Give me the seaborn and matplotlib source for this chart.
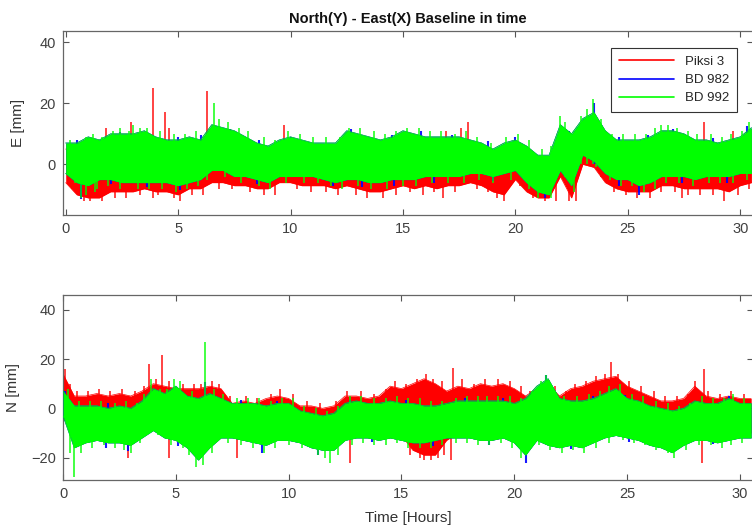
import numpy as np
import pandas as pd
import matplotlib
matplotlib.use("Agg")
import matplotlib.pyplot as plt
import seaborn as sns
from matplotlib.lines import Line2D

# ---------------- data ----------------
T = np.arange(0, 31, 0.5)  # hours, 0 .. 30.5

NAMES = ["Piksi 3", "BD 982", "BD 992"]
COLORS = ["#ff0000", "#0000ff", "#00ff00"]

# East component [mm]: dense-core upper / lower envelopes per receiver
RE_hi = [5, 5, 6, 6, 8, 8, 8, 8, 7, 7,
         6, 6, 6, 8, 8, 8, 7, 5, 4, 6,
         7, 6, 5, 5, 5, 8, 7, 7, 6, 6,
         8, 7, 7, 7, 7, 7, 6, 5, 3, 5,
         6, 4, 1, 1, 8, 6, 10, 11, 8, 6,
         5, 6, 6, 8, 8, 7, 6, 6, 5, 6,
         6, 8]
RE_lo = [-6, -10, -11, -11, -9, -9, -9, -8, -9, -9,
         -10, -8, -8, -6, -6, -7, -7, -8, -8, -6,
         -6, -7, -7, -7, -8, -7, -8, -9, -9, -8,
         -7, -8, -7, -8, -7, -7, -6, -7, -9, -10,
         -5, -9, -11, -11, -4, -11, 0, -1, -6, -8,
         -9, -9, -9, -7, -7, -8, -8, -8, -8, -9,
         -7, -6]
BE_hi = [7, 7, 9, 8, 10, 10, 10, 11, 9, 8,
         8, 9, 8, 13, 12, 11, 9, 7, 6, 8,
         9, 8, 7, 7, 7, 11, 10, 9, 8, 9,
         11, 10, 9, 9, 9, 9, 8, 7, 5, 7,
         8, 6, 3, 3, 13, 10, 15, 17, 11, 8,
         8, 8, 9, 11, 11, 10, 8, 8, 7, 8,
         9, 12]
BE_lo = [-3, -6, -7, -5, -5, -6, -6, -6, -6, -6,
         -7, -6, -5, -2, -2, -4, -4, -5, -6, -4,
         -4, -4, -4, -5, -6, -5, -5, -6, -6, -5,
         -5, -5, -4, -4, -4, -4, -3, -3, -4, -3,
         -2, -6, -9, -10, -2, -7, 3, 1, -3, -5,
         -5, -7, -6, -4, -4, -4, -5, -4, -4, -4,
         -3, -3]
GE_hi = [7, 7, 9, 8, 10, 10, 10, 11, 9, 8,
         8, 9, 8, 13, 12, 11, 9, 7, 6, 8,
         9, 8, 7, 7, 7, 11, 10, 9, 8, 9,
         11, 10, 9, 9, 9, 9, 8, 7, 5, 7,
         8, 6, 3, 3, 13, 10, 15, 17, 11, 8,
         8, 8, 9, 11, 11, 10, 8, 8, 7, 8,
         9, 12]
GE_lo = [-3, -6, -7, -5, -5, -6, -6, -6, -6, -6,
         -7, -6, -5, -2, -2, -4, -4, -5, -6, -4,
         -4, -4, -4, -5, -6, -5, -5, -6, -6, -5,
         -5, -5, -4, -4, -4, -4, -3, -3, -4, -3,
         -2, -6, -9, -10, -2, -7, 3, 1, -3, -5,
         -5, -7, -6, -4, -4, -4, -5, -4, -4, -4,
         -3, -3]

# North component [mm]
RN_hi = [14, 5, 5, 6, 5, 6, 5, 7, 10, 9,
         8, 8, 8, 9, 8, 2, 3, 2, 4, 5,
         4, 1, 1, 0, 1, 5, 5, 4, 5, 9,
         8, 10, 12, 10, 7, 9, 8, 10, 9, 10,
         8, 5, 8, 10, 5, 8, 9, 11, 12, 13,
         9, 7, 5, 3, 3, 4, 9, 5, 4, 5,
         4, 4]
RN_lo = [-2, -8, -10, -10, -11, -12, -14, -10, -8, -10,
         -12, -11, -13, -12, -10, -10, -11, -12, -13, -11,
         -11, -12, -14, -15, -15, -12, -11, -11, -11, -10,
         -11, -17, -19, -19, -13, -10, -10, -11, -11, -10,
         -11, -15, -10, -12, -13, -12, -12, -10, -9, -8,
         -10, -11, -13, -14, -15, -13, -11, -11, -11, -10,
         -10, -10]
BN_hi = [7, 1, 1, 1, 0, 1, 0, 3, 8, 6,
         9, 5, 4, 6, 4, 2, 2, 2, 1, 2,
         2, -1, -2, -3, -2, 2, 3, 2, 2, 3,
         2, 2, 1, 1, 2, 3, 3, 3, 3, 3,
         2, 4, 9, 12, 4, 3, 3, 4, 6, 8,
         4, 3, 1, 0, -1, 0, 3, 2, 2, 4,
         2, 2]
BN_lo = [-3, -16, -14, -13, -14, -14, -15, -12, -9, -12,
         -13, -16, -21, -16, -12, -12, -13, -14, -15, -13,
         -13, -14, -16, -17, -17, -13, -12, -12, -13, -12,
         -13, -14, -14, -13, -12, -12, -12, -13, -13, -12,
         -14, -19, -13, -15, -16, -15, -16, -14, -12, -11,
         -12, -13, -15, -16, -18, -15, -13, -13, -14, -13,
         -12, -12]
GN_hi = [7, 1, 1, 1, 0, 1, 0, 3, 8, 6,
         9, 5, 4, 6, 4, 2, 2, 2, 1, 2,
         2, -1, -2, -3, -2, 2, 3, 2, 2, 3,
         2, 2, 1, 1, 2, 3, 3, 3, 3, 3,
         2, 4, 9, 12, 4, 3, 3, 4, 6, 8,
         4, 3, 1, 0, -1, 0, 3, 2, 2, 4,
         2, 2]
GN_lo = [-3, -16, -14, -13, -14, -14, -15, -12, -9, -12,
         -13, -16, -21, -16, -12, -12, -13, -14, -15, -13,
         -13, -14, -16, -17, -17, -13, -12, -12, -13, -12,
         -13, -14, -14, -13, -12, -12, -12, -13, -13, -12,
         -14, -19, -13, -15, -16, -15, -16, -14, -12, -11,
         -12, -13, -15, -16, -18, -15, -13, -13, -14, -13,
         -12, -12]

# individual excursions beyond the dense core (time [h], value [mm])
RE_spk_t = [1.8, 2.9, 3.9, 4.4, 4.6, 6.3, 9.7, 16.9, 17.6, 17.9, 28.4, 29.7,
            3.9, 5.1, 16.8, 19.5, 27.4, 29.3,
            0.3, 0.8, 1.1, 1.6, 2.2, 2.7, 3.3, 4.1, 4.8, 5.6, 6.1, 6.8, 7.4, 8.2,
            8.8, 9.3, 10.3, 10.9, 11.6, 12.1, 12.9, 13.4, 14.1, 14.7, 15.3, 15.9,
            16.4, 17.3, 18.3, 18.8, 19.2, 20.2, 20.8, 21.3, 21.8, 22.4, 22.7, 23.8,
            24.4, 24.9, 25.4, 26.0, 26.5, 27.1, 27.7, 28.2, 28.8, 29.9, 30.4]
RE_spk_v = [12, 14, 25, 17, 12, 24, 13, 11, 12, 14, 14, 11,
            -11, -12, -11, -12, -11, -12,
            -8, -12, -12, -12, -11, -11, -10, -10, -11, -10, -10, -8, -8, -9,
            -10, -10, -8, -9, -9, -10, -10, -11, -11, -10, -9, -10,
            -9, -9, -8, -9, -11, -7, -11, -12, -12, -12, -12, -4,
            -9, -10, -11, -11, -9, -9, -10, -10, -10, -10, -8]
BE_spk_t = [0.5, 2.4, 5.0, 6.0, 7.3, 8.6, 10.0, 12.7, 14.5, 15.8, 17.2, 18.8,
            20.0, 22.4, 23.5, 24.6, 25.9, 27.0, 28.8, 30.3,
            0.7, 2.0, 3.6, 5.1, 8.5, 11.9, 13.2, 14.6, 16.4, 19.0, 21.3, 24.6,
            25.5, 27.4, 29.4]
BE_spk_v = [8, 10.5, 9, 9.5, 11.5, 8, 9, 11.5, 9.5, 11, 9.5, 7.5,
            9, 11, 20, 9, 9.5, 11.5, 8.5, 12.5,
            -11.5, -6.5, -7.5, -8.5, -6.5, -7, -7.5, -7, -6, -5.5, -11, -7,
            -10, -6, -6]
GE_spk_t = [3.0, 6.6, 22.0, 23.45, 26.5, 30.4, 0.7, 1.3,
            0.2, 0.9, 1.2, 1.6, 2.1, 2.4, 2.8, 3.3, 3.6, 4.2, 4.8, 5.3, 5.8, 6.8,
            7.2, 7.7, 8.1, 8.8, 9.3, 9.9, 10.4, 11.0, 11.6, 12.2, 12.6, 13.1, 13.7,
            14.2, 14.7, 15.2, 15.7, 16.2, 16.7, 17.3, 17.8, 18.3, 18.9, 19.6, 20.1,
            20.6, 21.2, 21.6, 22.2, 22.9, 23.2, 23.8, 24.3, 24.8, 25.3, 25.8, 26.2,
            26.8, 27.2, 27.7, 28.1, 28.7, 29.2, 29.6, 30.1,
            0.4, 0.9, 1.4, 1.9, 2.4, 3.2, 3.7, 4.3, 4.9, 5.4, 5.9, 6.3, 7.1, 7.8,
            8.6, 9.1, 9.8, 10.6, 11.2, 11.8, 12.3, 13.0, 13.6, 14.3, 15.0, 15.6,
            16.3, 17.0, 17.7, 18.4, 19.0, 19.8, 20.6, 21.0, 21.6, 22.2, 22.6, 23.6,
            24.2, 24.7, 25.2, 25.7, 26.2, 26.7, 27.3, 27.9, 28.6, 29.1, 29.7, 30.3]
GE_spk_v = [13, 20, 16, 21.5, 13, 14, -11, -9,
            8, 9, 10, 9, 11, 12, 11, 12, 12, 11, 10, 10, 11, 15,
            14, 12, 11, 9, 8, 11, 10, 9, 9, 9, 12, 12, 11,
            10, 11, 12, 12, 11, 11, 10, 11, 9, 7, 9, 10,
            8, 5, 6, 14, 16, 18, 15, 10, 10, 10, 10, 12,
            13, 12, 11, 10, 10, 9, 10, 11,
            -6, -10, -8, -7, -8, -8, -8, -8, -9, -8, -7, -5, -4, -6,
            -7, -8, -6, -6, -6, -7, -8, -7, -8, -8, -7, -7,
            -6, -6, -6, -5, -6, -5, -8, -11, -11, -4, -9, -1,
            -5, -7, -7, -9, -8, -6, -6, -7, -6, -6, -6, -5]

RN_spk_t = [0.1, 3.8, 4.1, 4.4, 9.6, 16.1, 17.3, 24.3, 28.0, 28.4,
            2.9, 4.7, 7.7, 12.7, 16.3, 17.2, 28.3,
            0.3, 0.6, 1.1, 1.6, 2.1, 2.6, 3.2, 3.6, 4.7, 5.3, 5.8, 6.1, 6.6, 6.9,
            7.4, 8.1, 8.6, 9.2, 10.2, 10.8, 11.4, 12.1, 12.6, 13.2, 13.8, 14.3,
            14.7, 15.2, 15.7, 16.4, 16.8, 17.7, 18.2, 18.7, 19.3, 19.8, 20.3, 20.7,
            21.3, 21.8, 22.3, 22.7, 23.2, 23.6, 24.0, 24.6, 25.1, 25.6, 26.2, 26.7,
            27.2, 27.7, 28.6, 29.1, 29.6, 30.2,
            15.4, 15.8, 16.0, 16.6, 16.9]
RN_spk_v = [16, 18, 12, 21.5, 8, 14, 16.5, 19, 11, 16,
            -20, -20, -20, -22, -21, -21, -22,
            10, 7, 7, 8, 7, 8, 7, 9, 11, 10, 10, 10, 11, 10,
            5, 5, 4, 6, 6, 3, 2, 3, 7, 7, 6, 8,
            11, 10, 12, 12, 11, 12, 10, 12, 12, 11, 9, 7,
            10, 9, 7, 10, 11, 13, 14, 14, 11, 9, 7, 5,
            5, 6, 7, 6, 7, 6,
            -19, -20, -21, -20, -19]
BN_spk_t = [6.3, 0.1, 2.0, 4.1, 7.9, 9.5, 12.7, 15.2, 17.8, 19.5, 21.4, 23.5,
            24.9, 27.8, 29.5,
            20.5, 1.9, 2.9, 5.1, 8.8, 11.3, 13.7, 16.4, 18.9, 22.5, 25.1, 26.8, 28.8]
BN_spk_v = [10.5, 7, 2, 5, 3.5, 3, 3.5, 3.5, 4, 4, 13.5, 5,
            5.5, 1.5, 5,
            -22, -16, -17.5, -15.5, -18, -19, -13.5, -15.5, -15, -16.5, -13.5, -17, -14.5]
GN_spk_t = [6.3, 4.9, 21.4, 0.5, 5.9, 6.2, 11.85,
            0.2, 0.7, 1.2, 1.7, 2.3, 2.8, 3.3, 3.6, 3.9, 4.3, 4.6, 5.2, 5.7, 6.7,
            7.1, 7.7, 8.2, 8.7, 9.2, 9.7, 10.2, 10.7, 11.2, 11.7, 12.2, 12.7, 13.2,
            13.8, 14.3, 14.8, 15.3, 15.8, 16.3, 16.8, 17.4, 17.9, 18.4, 18.8, 19.3,
            19.8, 20.3, 20.8, 21.2, 21.7, 22.2, 22.8, 23.3, 23.8, 24.2, 24.7, 25.2,
            25.7, 26.3, 26.8, 27.3, 27.8, 28.3, 28.8, 29.3, 29.7, 30.2,
            0.3, 0.8, 1.3, 1.8, 2.3, 2.7, 3.0, 3.4, 4.2, 4.8, 5.3, 5.6, 6.6, 7.3,
            7.9, 8.4, 8.9, 9.4, 10.0, 10.6, 11.3, 11.6, 12.2, 12.8, 13.3, 13.8,
            14.3, 14.8, 15.3, 15.8, 16.3, 16.8, 17.4, 17.9, 18.4, 18.9, 19.4, 19.9,
            20.3, 21.1, 21.6, 22.1, 22.6, 23.1, 23.6, 24.2, 24.8, 25.3, 25.8, 26.3,
            26.8, 27.1, 27.6, 28.2, 28.7, 29.2, 29.6, 30.1]
GN_spk_v = [27, 12, 13.5, -28, -24, -23, -22,
            8, 3, 3, 3, 2, 3, 2, 6, 12, 8, 8, 11, 7, 8,
            6, 4, 4, 4, 3, 4, 4, 1, 0, -1, 1, 5, 5,
            4, 4, 5, 4, 4, 3, 3, 4, 5, 5, 5, 5,
            5, 4, 7, 11, 7, 5, 5, 6, 7, 9, 10, 6,
            5, 3, 2, 1, 2, 5, 4, 4, 6, 4,
            -18, -18, -16, -15, -16, -17, -18, -14, -11, -15, -16, -19, -18, -14,
            -15, -16, -18, -16, -15, -16, -19, -20, -19, -15, -14, -15,
            -15, -14, -16, -16, -16, -15, -14, -14, -15, -15, -14, -16,
            -20, -15, -17, -18, -17, -18, -16, -14, -13, -14, -15, -17,
            -18, -20, -17, -15, -15, -16, -15, -14]

# ---------------- figure ----------------
sns.set_style("ticks")
plt.rcParams["font.family"] = ["Liberation Sans", "DejaVu Sans"]

W, H = 752, 530
fig = plt.figure(figsize=(W / 100, H / 100), dpi=100)
ax1 = fig.add_axes([63 / W, 1 - 215 / H, 690 / W, 184 / H])
ax2 = fig.add_axes([63 / W, 1 - 480 / H, 690 / W, 185 / H])

panels = [
    (ax1, [(RE_hi, RE_lo, RE_spk_t, RE_spk_v),
           (BE_hi, BE_lo, BE_spk_t, BE_spk_v),
           (GE_hi, GE_lo, GE_spk_t, GE_spk_v)], 0),
    (ax2, [(RN_hi, RN_lo, RN_spk_t, RN_spk_v),
           (BN_hi, BN_lo, BN_spk_t, BN_spk_v),
           (GN_hi, GN_lo, GN_spk_t, GN_spk_v)], -5),
]

for ax, series, base in panels:
    for i, (hi, lo, st, sv) in enumerate(series):
        c = COLORS[i]
        z = 2 + i
        df = pd.DataFrame({"t": T, "hi": hi, "lo": lo})
        ax.fill_between(df["t"], df["lo"], df["hi"], color=c, lw=0, zorder=z)
        sns.lineplot(data=df, x="t", y="hi", ax=ax, color=c, lw=0.5,
                     estimator=None, zorder=z)
        sns.lineplot(data=df, x="t", y="lo", ax=ax, color=c, lw=0.5,
                     estimator=None, zorder=z)
        ax.vlines(st, base, sv, color=c, lw=1.5 if i == 1 else 1.15,
                  alpha=0.9, zorder=z - 0.5)
    if ax.get_legend() is not None:
        ax.get_legend().remove()

ax1.set_xlim(-0.12, 30.57)
ax1.set_ylim(-16.6, 43.7)
ax1.set_yticks([0, 20, 40])
ax2.set_xlim(0, 30.58)
ax2.set_ylim(-29.1, 46)
ax2.set_yticks([-20, 0, 20, 40])

for ax in (ax1, ax2):
    ax.set_xticks([0, 5, 10, 15, 20, 25, 30])
    ax.tick_params(direction="in", length=4, width=0.8, top=True, right=True,
                   colors="#555555", labelcolor="#404040", labelsize=10.5, pad=5)
    for s in ax.spines.values():
        s.set_visible(True)
        s.set_color("#666666")
        s.set_linewidth(0.9)
    ax.set_xlabel("")
    ax.set_facecolor("white")

ax1.set_ylabel("E [mm]", fontsize=11, color="#333333")
ax1.yaxis.set_label_coords(-0.055, 0.5)
ax2.set_ylabel("N [mm]", fontsize=11, color="#333333")
ax2.yaxis.set_label_coords(-0.062, 0.5)
ax2.set_xlabel("Time [Hours]", fontsize=11, color="#333333")
ax2.xaxis.set_label_coords(0.5, -0.165)

ax1.set_title("North(Y) - East(X) Baseline in time", fontsize=10.5,
              fontweight="bold", color="#111111", pad=6)

handles = [Line2D([], [], color=c, lw=1.2) for c in COLORS]
leg = ax1.legend(handles, NAMES, loc="upper right", bbox_to_anchor=(0.977, 0.908),
                 frameon=True, fancybox=False, shadow=False, fontsize=9.5,
                 handlelength=4.2, borderpad=0.6, labelspacing=0.45,
                 handletextpad=0.8, borderaxespad=0)
leg.get_frame().set_edgecolor("#333333")
leg.get_frame().set_linewidth(0.8)
leg.get_frame().set_alpha(1)
for t in leg.get_texts():
    t.set_color("#262626")
leg.set_zorder(10)

fig.savefig("out.png", dpi=100, facecolor="white")
